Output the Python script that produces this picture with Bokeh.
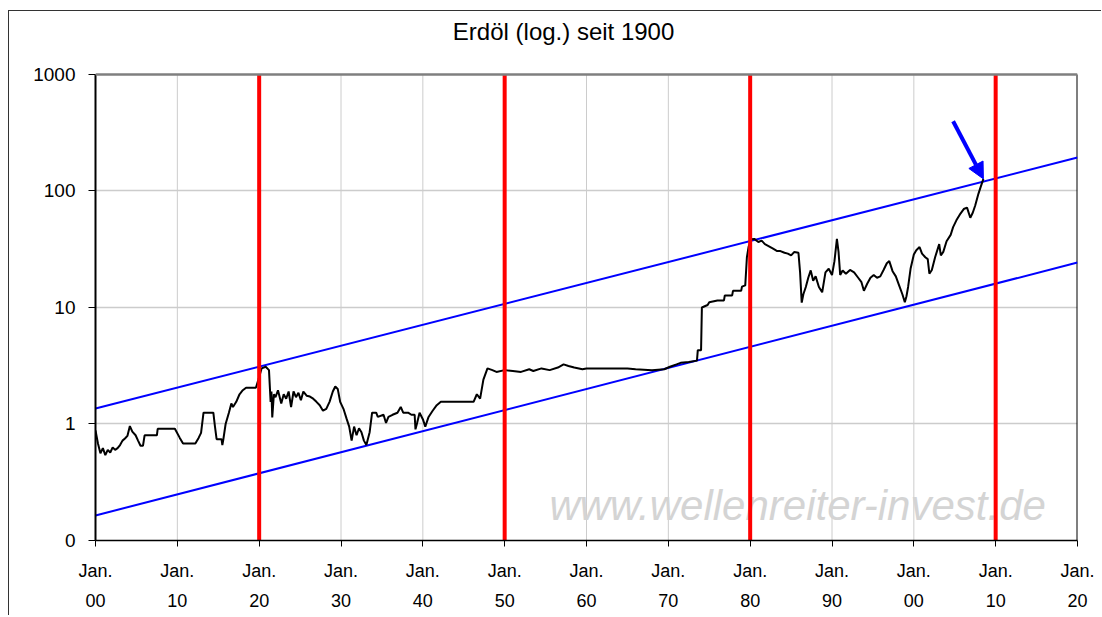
from bokeh.plotting import figure
from bokeh.models import Range1d, FixedTicker, Span, Label, Arrow, NormalHead, ColumnDataSource
from bokeh.embed import file_html
from bokeh.resources import INLINE

# ---------------- data ----------------
oil_years = [1900.0, 1900.3, 1900.6, 1900.9, 1901.2, 1901.5, 1901.8, 1902.1, 1902.4, 1902.7,
             1903.0, 1903.3, 1903.6, 1903.9, 1904.2, 1904.5, 1904.9, 1905.2, 1905.5, 1905.8,
             1906.0, 1907.5, 1907.6, 1909.7, 1910.3, 1910.7, 1912.2, 1912.6, 1912.9, 1913.2,
             1914.4, 1914.6, 1914.8, 1915.4, 1915.5, 1915.6, 1915.9, 1916.3, 1916.6, 1916.8,
             1917.2, 1917.6, 1918.0, 1918.4, 1919.6, 1919.9, 1920.3, 1920.8, 1921.2, 1921.4,
             1921.5, 1921.6, 1921.8, 1922.0, 1922.3, 1922.7, 1923.0, 1923.3, 1923.6, 1923.9,
             1924.2, 1924.5, 1924.8, 1925.1, 1925.4, 1925.8, 1926.2, 1926.6, 1927.0, 1927.4,
             1927.8, 1928.2, 1928.6, 1929.0, 1929.3, 1929.6, 1929.9, 1930.3, 1930.7, 1931.0,
             1931.3, 1931.6, 1931.9, 1932.2, 1932.5, 1932.8, 1933.1, 1933.5, 1933.8, 1934.3,
             1934.5, 1935.2, 1935.5, 1935.8, 1936.3, 1936.9, 1937.3, 1937.6, 1938.2, 1938.6,
             1939.0, 1939.1, 1939.3, 1939.6, 1940.0, 1940.3, 1940.7, 1941.2, 1941.7, 1942.2,
             1946.2, 1946.6, 1947.0, 1947.4, 1947.9, 1948.5, 1949.0, 1950.0, 1951.0, 1952.0,
             1953.0, 1953.5, 1954.5, 1955.5, 1956.5, 1957.2, 1957.8, 1958.5, 1959.5, 1960.0,
             1965.0, 1966.0, 1968.0, 1969.5, 1970.2, 1971.0, 1971.5, 1972.5, 1973.5, 1973.6,
             1974.0, 1974.1, 1974.8, 1975.0, 1976.0, 1976.8, 1976.9, 1977.8, 1977.9, 1978.9,
             1979.0, 1979.4, 1979.6, 1979.8, 1980.1, 1980.5, 1981.0, 1981.4, 1981.8, 1982.3,
             1982.8, 1983.3, 1983.7, 1984.2, 1984.6, 1985.0, 1985.4, 1985.9, 1986.1, 1986.3,
             1986.5, 1986.8, 1987.1, 1987.4, 1987.7, 1988.0, 1988.4, 1988.8, 1989.2, 1989.6,
             1990.0, 1990.3, 1990.6, 1990.8, 1991.0, 1991.3, 1991.7, 1992.2, 1992.7, 1993.2,
             1993.6, 1993.9, 1994.3, 1994.7, 1995.1, 1995.5, 1995.9, 1996.3, 1996.7, 1997.0,
             1997.4, 1997.8, 1998.2, 1998.6, 1998.9, 1999.1, 1999.3, 1999.6, 2000.0, 2000.3,
             2000.7, 2001.0, 2001.4, 2001.7, 2001.9, 2002.2, 2002.6, 2003.1, 2003.3, 2003.6,
             2004.0, 2004.5, 2004.8, 2005.2, 2005.7, 2006.1, 2006.5, 2006.9, 2007.2, 2007.5,
             2007.9, 2008.2, 2008.5]
oil_prices = [0.88, 0.68, 0.56, 0.62, 0.54, 0.60, 0.57, 0.63, 0.60, 0.62,
              0.66, 0.72, 0.75, 0.79, 0.96, 0.86, 0.80, 0.72, 0.65, 0.65,
              0.80, 0.80, 0.91, 0.91, 0.76, 0.68, 0.68, 0.76, 0.84, 1.25,
              1.25, 0.95, 0.74, 0.74, 0.66, 0.72, 1.00, 1.25, 1.50, 1.40,
              1.55, 1.80, 1.95, 2.05, 2.05, 2.40, 3.00, 3.10, 2.90, 1.55,
              1.90, 1.14, 1.80, 1.70, 1.95, 1.50, 1.80, 1.65, 1.90, 1.40,
              1.90, 1.70, 1.85, 1.60, 1.90, 1.75, 1.72, 1.65, 1.55, 1.45,
              1.30, 1.35, 1.55, 1.90, 2.10, 2.00, 1.55, 1.35, 1.10, 0.95,
              0.72, 0.95, 0.80, 0.92, 0.85, 0.72, 0.66, 0.85, 1.25, 1.25,
              1.15, 1.20, 1.02, 1.15, 1.20, 1.25, 1.40, 1.25, 1.25, 1.20,
              1.20, 0.90, 1.02, 1.25, 1.10, 0.95, 1.15, 1.30, 1.45, 1.55,
              1.55, 1.80, 1.65, 2.40, 3.00, 2.90, 2.80, 2.90, 2.85, 2.80,
              2.95, 2.85, 3.00, 2.90, 3.05, 3.25, 3.15, 3.05, 2.95, 3.00,
              3.00, 2.95, 2.90, 2.95, 3.10, 3.25, 3.35, 3.40, 3.50, 4.30,
              4.30, 10.0, 10.5, 11.1, 11.5, 11.5, 12.7, 12.7, 13.9, 13.9,
              15.1, 15.5, 27.0, 33.0, 38.5, 38.8, 36.5, 37.5, 35.0, 33.5,
              32.0, 30.5, 30.5, 29.5, 29.0, 28.0, 30.0, 29.5, 20.0, 11.0,
              13.0, 15.0, 18.0, 20.8, 17.0, 18.5, 15.0, 13.5, 20.0, 21.5,
              19.0, 25.0, 38.8, 30.0, 19.0, 20.8, 19.5, 21.0, 20.0, 18.0,
              16.5, 13.9, 16.0, 18.0, 19.0, 18.0, 18.5, 21.0, 24.0, 25.0,
              20.5, 18.5, 15.5, 13.0, 11.1, 12.5, 15.0, 21.5, 28.5, 31.0,
              33.0, 29.0, 27.0, 26.0, 19.5, 21.0, 27.0, 35.0, 28.0, 30.0,
              37.0, 42.0, 49.0, 56.0, 64.0, 70.0, 72.0, 59.0, 65.0, 75.0,
              95.0, 110.0, 127.0]

decade_ticks = [1900, 1910, 1920, 1930, 1940, 1950, 1960, 1970, 1980, 1990, 2000, 2010, 2020]
x_tick_labels = ["Jan.\n00", "Jan.\n10", "Jan.\n20", "Jan.\n30", "Jan.\n40", "Jan.\n50", "Jan.\n60",
                 "Jan.\n70", "Jan.\n80", "Jan.\n90", "Jan.\n00", "Jan.\n10", "Jan.\n20"]
y_ticks = [0.1, 1, 10, 100, 1000]
y_tick_labels = ["0", "1", "10", "100", "1000"]

cycle_years = [1920, 1950, 1980, 2010]
channel_x = [1900, 2020]
upper_channel = [1.36, 194.0]
lower_channel = [0.164, 24.3]
arrow_from = (2004.8, 397.0)
arrow_to = (2008.5, 127.0)

title_text = "Erdöl (log.) seit 1900"
watermark = "www.wellenreiter-invest.de"

FONT = "Liberation Sans"
Y_MIN, Y_MAX = 0.1, 1000      # plotted value range
Y_TOP = 3405                  # extra room above 1000 for the title

# ---------------- figure ----------------
p = figure(width=1093, height=605, output_backend="svg", toolbar_location=None,
           y_axis_type="log", x_range=Range1d(1900, 2020), y_range=Range1d(Y_MIN, Y_TOP),
           min_border_left=86, min_border_right=25, min_border_top=1, min_border_bottom=76)
p.styles = {"margin-left": "8px", "margin-top": "10px",
            "border-left": "1px solid #333333", "border-top": "1px solid #333333"}

p.outline_line_color = None
p.background_fill_color = "white"
p.border_fill_color = "white"

# title
p.add_layout(Label(x=1957.2, y=2339, text=title_text, text_align="center", text_baseline="middle",
                   text_font=FONT, text_font_size="24px", text_color="black"))

# grids
p.xgrid.visible = False
p.segment(x0=decade_ticks[1:-1], x1=decade_ticks[1:-1], y0=[Y_MIN] * (len(decade_ticks) - 2),
          y1=[Y_MAX] * (len(decade_ticks) - 2), line_color="#cccccc", line_width=1, level="underlay")
p.ygrid.ticker = FixedTicker(ticks=[1, 10, 100])
p.ygrid.grid_line_color = "#cccccc"
p.ygrid.grid_line_width = 1.5
p.add_layout(Span(location=Y_MAX, dimension="width", line_color="#7f7f7f", line_width=2.5))
# right border of the plot area
p.segment(x0=[2020], x1=[2020], y0=[Y_MIN], y1=[Y_MAX], line_color="black", line_width=2)

# axes
p.xaxis.ticker = FixedTicker(ticks=decade_ticks, minor_ticks=[])
p.xaxis.major_label_overrides = {t: l for t, l in zip(decade_ticks, x_tick_labels)}
p.xaxis.axis_line_color = "black"
p.xaxis.axis_line_width = 1.5
p.xaxis.major_tick_in = 0
p.xaxis.major_tick_out = 6
p.xaxis.major_tick_line_color = "black"
p.xaxis.major_label_standoff = 14
p.xaxis.major_label_text_font = FONT
p.xaxis.major_label_text_font_size = "18px"
p.xaxis.major_label_text_color = "black"
p.xaxis.major_label_text_line_height = 1.5

p.yaxis.ticker = FixedTicker(ticks=y_ticks, minor_ticks=[])
p.yaxis.bounds = (Y_MIN, Y_MAX)
p.yaxis.major_label_overrides = {t: l for t, l in zip(y_ticks, y_tick_labels)}
p.yaxis.axis_line_color = "black"
p.yaxis.axis_line_width = 2
p.yaxis.major_tick_in = 0
p.yaxis.major_tick_out = 7
p.yaxis.major_tick_line_color = "black"
p.yaxis.minor_tick_line_color = None
p.yaxis.major_label_standoff = 13
p.yaxis.major_label_text_font = FONT
p.yaxis.major_label_text_font_size = "19px"
p.yaxis.major_label_text_color = "black"

# watermark
p.add_layout(Label(x=1985.8, y=0.2, text=watermark, text_align="center", text_baseline="middle",
                   text_font=FONT, text_font_style="italic", text_font_size="42px",
                   text_color="#d4d4d4", level="underlay"))

# channel lines
p.line(channel_x, upper_channel, line_color="#0000ff", line_width=2)
p.line(channel_x, lower_channel, line_color="#0000ff", line_width=2)

# oil price
src = ColumnDataSource(dict(x=oil_years, y=oil_prices))
p.line("x", "y", source=src, line_color="black", line_width=2)

# red cycle lines
p.segment(x0=cycle_years, x1=cycle_years, y0=[Y_MIN] * len(cycle_years), y1=[Y_MAX] * len(cycle_years),
          line_color="#ff0000", line_width=4)

# arrow
p.add_layout(Arrow(end=NormalHead(size=16, fill_color="#0000ff", line_color="#0000ff"),
                   x_start=arrow_from[0], y_start=arrow_from[1], x_end=arrow_to[0], y_end=arrow_to[1],
                   line_color="#0000ff", line_width=4))

open("out.html", "w").write(file_html(p, INLINE))
